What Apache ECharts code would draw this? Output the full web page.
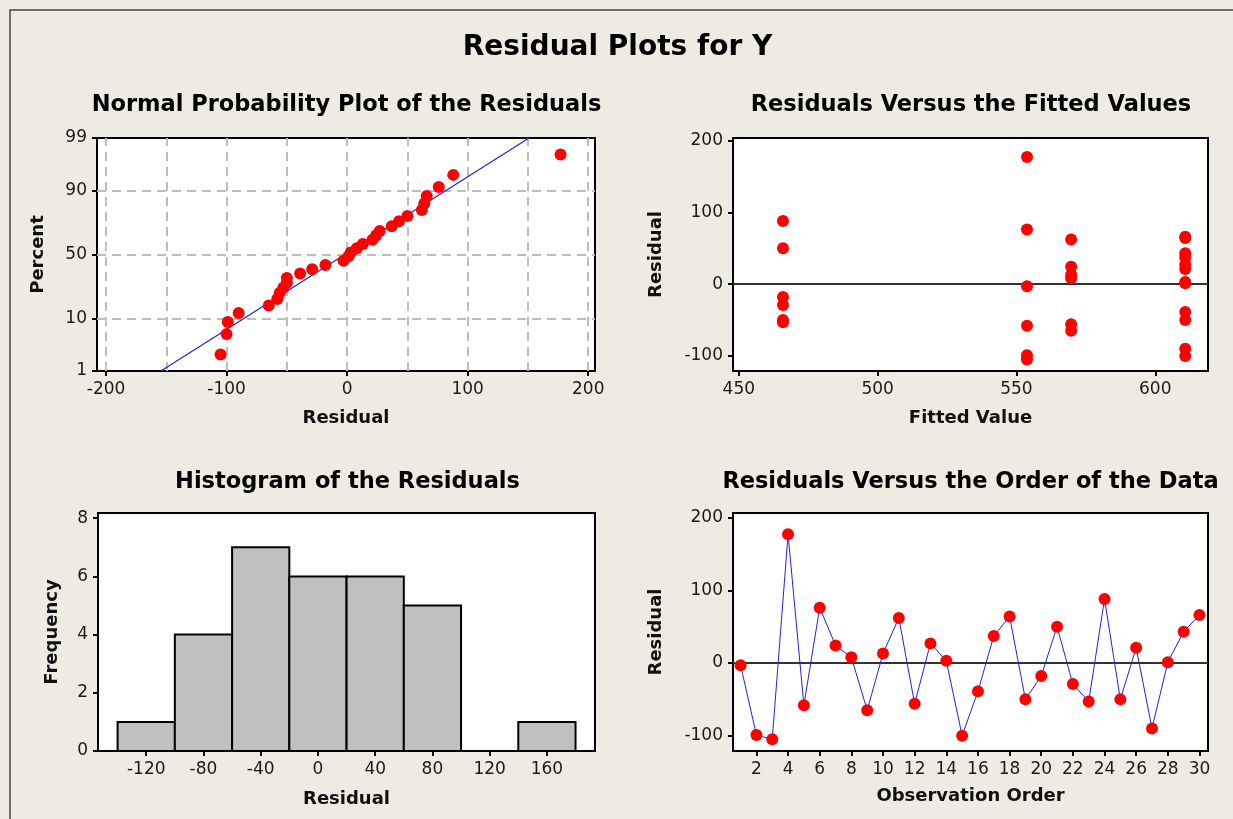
<!DOCTYPE html>
<html>
<head>
<meta charset="utf-8">
<script src="https://cdn.jsdelivr.net/npm/echarts@6/dist/echarts.min.js"></script>
<style>html,body{margin:0;padding:0;background:#EEEBE2;}#c{width:1233px;height:819px;}</style>
</head>
<body>
<div id="c"></div>
<script>
// ---------------- DATA ----------------
const observationOrder = [1,2,3,4,5,6,7,8,9,10,11,12,13,14,15,16,17,18,19,20,21,22,23,24,25,26,27,28,29,30];
const residuals = [-3,-99,-105,177,-58,76,24,8,-65,13,62,-56,27,3,-100,-39,37,64,-50,-18,50,-29,-53,88,-50,21,-90,1,43,66];
const fittedValues = [553.8,553.8,553.8,553.8,553.8,553.8,
                      569.7,569.7,569.7,569.7,569.7,569.7,
                      610.8,610.8,610.8,610.8,610.8,610.8,
                      465.9,465.9,465.9,465.9,465.9,465.9,
                      610.8,610.8,610.8,610.8,610.8,610.8];
const histBinMidpoints = [-120,-80,-40,0,40,80,120,160];
const histCounts = [1,4,7,6,6,5,0,1];
const histBinWidth = 40;

const percentTicks = [1,10,50,90,99];
const probResidualTicks = [-200,-100,0,100,200];
const probGridX = [-200,-150,-100,-50,0,50,100,150,200];
const probGridPercent = [10,50,90];
const fittedTicks = [450,500,550,600];
const residualTicks = [-100,0,100,200];
const histResidualTicks = [-120,-80,-40,0,40,80,120,160];
const frequencyTicks = [0,2,4,6,8];
const orderTicks = [2,4,6,8,10,12,14,16,18,20,22,24,26,28,30];

// ---------------- HELPERS ----------------
function normInv(p){
  const a=[-3.969683028665376e+01,2.209460984245205e+02,-2.759285104469687e+02,1.383577518672690e+02,-3.066479806614716e+01,2.506628277459239e+00];
  const b=[-5.447609879822406e+01,1.615858368580409e+02,-1.556989798598866e+02,6.680131188771972e+01,-1.328068155288572e+01];
  const c=[-7.784894002430293e-03,-3.223964580411365e-01,-2.400758277161838e+00,-2.549732539343734e+00,4.374664141464968e+00,2.938163982698783e+00];
  const d=[7.784695709041462e-03,3.224671290700398e-01,2.445134137142996e+00,3.754408661907416e+00];
  const pl=0.02425, ph=1-pl; let q,r;
  if(p<pl){q=Math.sqrt(-2*Math.log(p));return (((((c[0]*q+c[1])*q+c[2])*q+c[3])*q+c[4])*q+c[5])/((((d[0]*q+d[1])*q+d[2])*q+d[3])*q+1);}
  if(p<=ph){q=p-0.5;r=q*q;return (((((a[0]*r+a[1])*r+a[2])*r+a[3])*r+a[4])*r+a[5])*q/(((((b[0]*r+b[1])*r+b[2])*r+b[3])*r+b[4])*r+1);}
  q=Math.sqrt(-2*Math.log(1-p));return -(((((c[0]*q+c[1])*q+c[2])*q+c[3])*q+c[4])*q+c[5])/((((d[0]*q+d[1])*q+d[2])*q+d[3])*q+1);
}
const n = residuals.length;
const sorted = residuals.slice().sort((x,y)=>x-y);
const probPoints = sorted.map((v,i)=>[v, normInv((i+1-0.3)/(n+0.4))]);
const mean = residuals.reduce((s,v)=>s+v,0)/n;
const sd = Math.sqrt(residuals.reduce((s,v)=>s+(v-mean)*(v-mean),0)/(n-1));
const zLo = normInv(0.01), zHi = normInv(0.99);
const fitLine = [[mean+sd*zLo, zLo],[mean+sd*zHi, zHi]];
const percentZ = percentTicks.map(p=>normInv(p/100));
function percentLabel(z){
  let best = 0, bd = Infinity;
  percentZ.forEach((pz,i)=>{ const dd = Math.abs(pz - z); if (dd < bd){ bd = dd; best = i; } });
  return String(percentTicks[best]);
}

const scatterFitted = residuals.map((r,i)=>[fittedValues[i], r]);
const orderData = residuals.map((r,i)=>[observationOrder[i], r]);
const histData = histBinMidpoints.map((m,i)=>[m-histBinWidth/2, m+histBinWidth/2, histCounts[i]]);

// ---------------- STYLE ----------------
const FONT = 'DejaVu Sans';
const tickLabel = {fontFamily: FONT, fontSize: 17, color: '#1a1a1a'};
const nameStyle = {fontFamily: FONT, fontSize: 18, fontWeight: 'bold', color: '#111'};
function axis(gridIndex, min, max, ticks, name, nameGap, isY, labelExtra){
  const o = {
    type: 'value', gridIndex, min, max,
    name, nameLocation: 'middle', nameGap, nameTextStyle: nameStyle,
    axisLine: {show: false, onZero: false},
    axisTick: {show: true, inside: false, length: 5, customValues: ticks, lineStyle: {color: '#000', width: 2}},
    axisLabel: Object.assign({customValues: ticks, margin: 10, showMinLabel: true, showMaxLabel: true, hideOverlap: false}, tickLabel, labelExtra || {}),
    splitLine: {show: false}
  };
  if (isY) o.nameRotate = 90;
  return o;
}
const gridBase = {show: true, backgroundColor: '#ffffff', borderColor: '#000', borderWidth: 2, containLabel: false, outerBoundsMode: 'none'};
const redDot = {color: '#FF0000', opacity: 1};
const dashGrid = {color: '#BDBDBD', width: 2, type: [9,6]};
const subTitle = {fontFamily: FONT, fontSize: 22.5, fontWeight: 'bold', color: '#000'};

const chart = echarts.init(document.getElementById('c'), null, {renderer: 'canvas'});
chart.setOption({
  backgroundColor: '#EEEBE2',
  animation: false,
  graphic: [{type: 'rect', shape: {x: 10, y: 10, width: 1400, height: 1000}, style: {fill: 'none', stroke: '#444', lineWidth: 1.5}, z: -1}],
  title: [
    {text: 'Residual Plots for Y', left: 612.5, top: 29, textAlign: 'center', textStyle: {fontFamily: FONT, fontSize: 28, fontWeight: 'bold', color: '#000'}},
    {text: 'Normal Probability Plot of the Residuals', left: 341.5, top: 89, textAlign: 'center', textStyle: subTitle},
    {text: 'Residuals Versus the Fitted Values', left: 966, top: 89, textAlign: 'center', textStyle: subTitle},
    {text: 'Histogram of the Residuals', left: 342.5, top: 466, textAlign: 'center', textStyle: subTitle},
    {text: 'Residuals Versus the Order of the Data', left: 965.5, top: 466, textAlign: 'center', textStyle: subTitle}
  ],
  grid: [
    Object.assign({left: 97, top: 138, width: 498, height: 233}, gridBase),
    Object.assign({left: 733, top: 138, width: 475, height: 233}, gridBase),
    Object.assign({left: 98, top: 513, width: 497, height: 238}, gridBase),
    Object.assign({left: 733, top: 513, width: 475, height: 238}, gridBase)
  ],
  xAxis: [
    axis(0, -207.5, 205.6, probResidualTicks, 'Residual', 38, false),
    axis(1, 447.9, 619, fittedTicks, 'Fitted Value', 38, false),
    axis(2, -153.7, 193.6, histResidualTicks, 'Residual', 39, false),
    axis(3, 0.52, 30.54, orderTicks, 'Observation Order', 36, false)
  ],
  yAxis: [
    axis(0, zLo, zHi, percentZ, 'Percent', 50, true, {formatter: percentLabel}),
    axis(1, -121, 203.4, residualTicks, 'Residual', 68, true),
    axis(2, 0, 8.18, frequencyTicks, 'Frequency', 37, true),
    axis(3, -121, 206.3, residualTicks, 'Residual', 68, true)
  ],
  series: [
    {
      type: 'line', xAxisIndex: 0, yAxisIndex: 0, data: fitLine, symbol: 'none', clip: true,
      lineStyle: {color: '#2222DD', width: 1.2}, z: 3,
      markLine: {
        silent: true, symbol: 'none', label: {show: false}, lineStyle: dashGrid, z: 1,
        data: probGridX.map(v=>({xAxis: v})).concat(probGridPercent.map(p=>({yAxis: normInv(p/100)})))
      }
    },
    {type: 'scatter', xAxisIndex: 0, yAxisIndex: 0, data: probPoints, symbolSize: 12, itemStyle: redDot, z: 4},
    {
      type: 'scatter', xAxisIndex: 1, yAxisIndex: 1, data: scatterFitted, symbolSize: 12, itemStyle: redDot, z: 4,
      markLine: {silent: true, symbol: 'none', label: {show: false}, lineStyle: {color: '#333', width: 2, type: 'solid'}, data: [{yAxis: 0}], z: 2}
    },
    {
      type: 'custom', xAxisIndex: 2, yAxisIndex: 2, data: histData, encode: {x: [0,1], y: 2},
      renderItem: function(params, api){
        const h = api.value(2);
        if (!h) return null;
        const p0 = api.coord([api.value(0), h]);
        const p1 = api.coord([api.value(1), 0]);
        return {type: 'rect', shape: {x: p0[0], y: p0[1], width: p1[0]-p0[0], height: p1[1]-p0[1]},
                style: {fill: '#C0C0C0', stroke: '#000', lineWidth: 2}};
      }
    },
    {
      type: 'line', xAxisIndex: 3, yAxisIndex: 3, data: orderData, symbol: 'circle', symbolSize: 12,
      lineStyle: {color: '#2222DD', width: 1}, itemStyle: redDot, z: 4,
      markLine: {silent: true, symbol: 'none', label: {show: false}, lineStyle: {color: '#333', width: 2, type: 'solid'}, data: [{yAxis: 0}], z: 2}
    }
  ]
});
</script>
</body>
</html>
